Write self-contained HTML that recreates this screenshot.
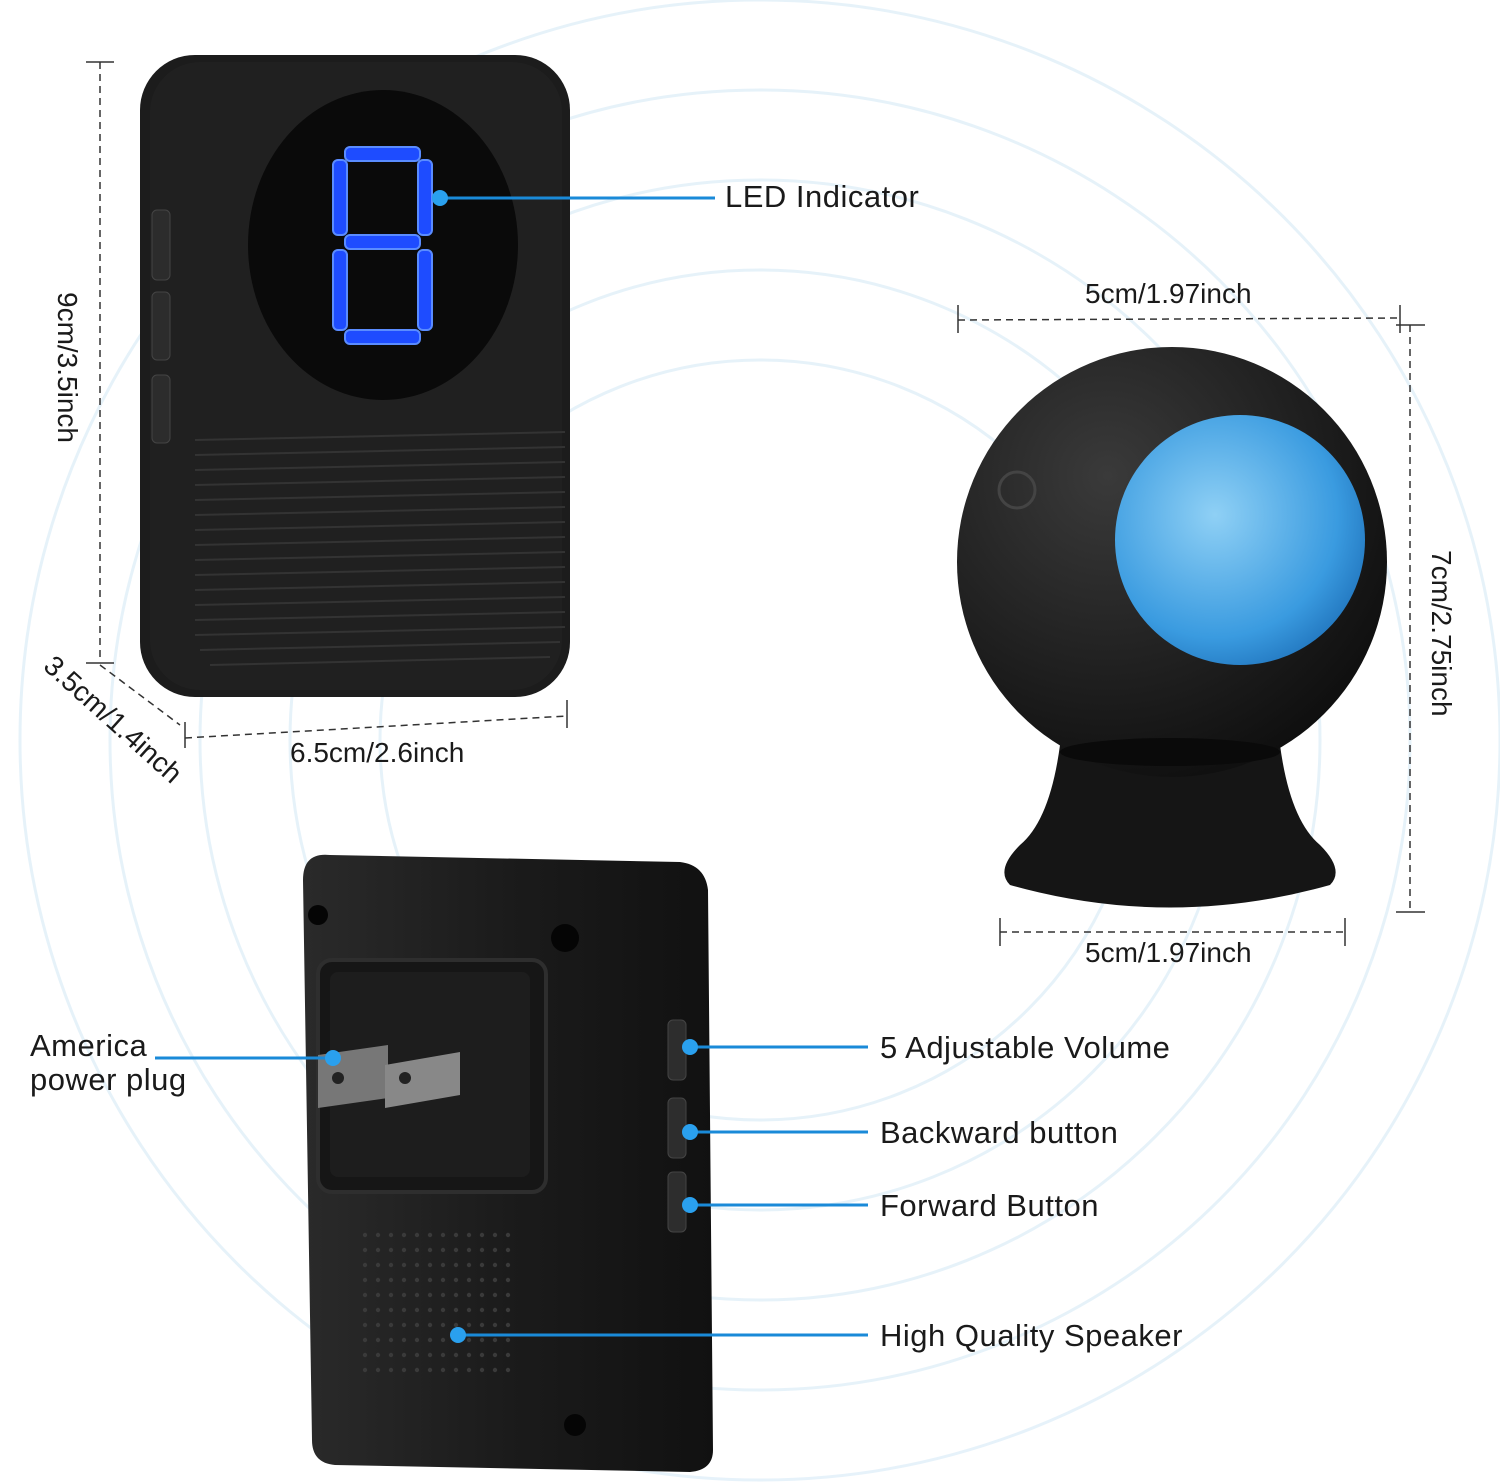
<!DOCTYPE html>
<html><head><meta charset="utf-8"><style>
html,body{margin:0;padding:0;background:#fff;}
svg{display:block;}
text{font-family:"Liberation Sans","DejaVu Sans",sans-serif;fill:#1a1a1a;}
</style></head><body>
<svg width="1500" height="1483" viewBox="0 0 1500 1483" xmlns="http://www.w3.org/2000/svg">
<defs>
<radialGradient id="lens" cx="0.4" cy="0.4" r="0.7"><stop offset="0" stop-color="#8fd0f5"/><stop offset="0.7" stop-color="#3a9be0"/><stop offset="1" stop-color="#1d6fb8"/></radialGradient>
<radialGradient id="ball" cx="0.35" cy="0.3" r="0.8"><stop offset="0" stop-color="#3a3a3a"/><stop offset="1" stop-color="#0c0c0c"/></radialGradient>
<linearGradient id="box" x1="0" x2="1"><stop offset="0" stop-color="#2a2a2a"/><stop offset="0.5" stop-color="#1b1b1b"/><stop offset="1" stop-color="#111"/></linearGradient>
</defs>
<rect width="1500" height="1483" fill="#fff"/>
<g fill="none" stroke="#d6eaf6" stroke-width="3" opacity="0.6">
<circle cx="760" cy="740" r="560"/>
<circle cx="760" cy="740" r="650"/>
<circle cx="760" cy="740" r="740"/>
<circle cx="760" cy="740" r="470"/>
<circle cx="760" cy="740" r="380"/>
</g>
<rect x="140" y="55" width="430" height="642" rx="55" fill="#1c1c1c"/>
<rect x="150" y="62" width="412" height="628" rx="50" fill="#202020"/>
<ellipse cx="383" cy="245" rx="135" ry="155" fill="#0a0a0a"/>
<g fill="#1e4cff" stroke="#5a8cff" stroke-width="2">
<rect x="345" y="147" width="75" height="14" rx="5"/>
<rect x="333" y="160" width="14" height="75" rx="5"/>
<rect x="418" y="160" width="14" height="75" rx="5"/>
<rect x="345" y="235" width="75" height="14" rx="5"/>
<rect x="333" y="250" width="14" height="80" rx="5"/>
<rect x="418" y="250" width="14" height="80" rx="5"/>
<rect x="345" y="330" width="75" height="14" rx="5"/>
</g>
<g stroke="#333" stroke-width="2">
<line x1="195" y1="440" x2="565" y2="432"/><line x1="195" y1="455" x2="565" y2="447"/>
<line x1="195" y1="470" x2="565" y2="462"/><line x1="195" y1="485" x2="565" y2="477"/>
<line x1="195" y1="500" x2="565" y2="492"/><line x1="195" y1="515" x2="565" y2="507"/>
<line x1="195" y1="530" x2="565" y2="522"/><line x1="195" y1="545" x2="565" y2="537"/>
<line x1="195" y1="560" x2="565" y2="552"/><line x1="195" y1="575" x2="565" y2="567"/>
<line x1="195" y1="590" x2="565" y2="582"/><line x1="195" y1="605" x2="565" y2="597"/>
<line x1="195" y1="620" x2="565" y2="612"/><line x1="195" y1="635" x2="565" y2="627"/>
<line x1="200" y1="650" x2="560" y2="642"/><line x1="210" y1="665" x2="550" y2="657"/>
</g>
<g fill="#2c2c2c" stroke="#444"><rect x="152" y="210" width="18" height="70" rx="5"/><rect x="152" y="292" width="18" height="68" rx="5"/><rect x="152" y="375" width="18" height="68" rx="5"/></g>
<g stroke="#333" stroke-width="1.5" stroke-dasharray="7,5" fill="none">
<line x1="100" y1="62" x2="100" y2="662"/>
<line x1="185" y1="738" x2="567" y2="716"/>
<line x1="100" y1="665" x2="180" y2="725"/>
</g>
<g stroke="#333" stroke-width="1.5"><line x1="86" y1="62" x2="114" y2="62"/><line x1="86" y1="663" x2="114" y2="663"/><line x1="567" y1="700" x2="567" y2="728"/><line x1="185" y1="722" x2="185" y2="748"/></g>
<text x="0" y="0" font-size="28" transform="translate(58,292) rotate(90)">9cm/3.5inch</text>
<text x="290" y="762" font-size="28">6.5cm/2.6inch</text>
<text x="0" y="0" font-size="28" transform="translate(42,668) rotate(42)">3.5cm/1.4inch</text>
<line x1="440" y1="198" x2="715" y2="198" stroke="#1a8ad8" stroke-width="3"/>
<circle cx="440" cy="198" r="8" fill="#2aa0ee"/>
<text x="725" y="207" font-size="31" letter-spacing="0.5">LED Indicator</text>
<path d="M1060 745 L1280 745 Q1290 820 1320 845 Q1345 870 1330 885 Q1170 930 1010 885 Q995 870 1020 845 Q1050 820 1060 745Z" fill="#151515"/>
<circle cx="1172" cy="562" r="215" fill="url(#ball)"/>
<ellipse cx="1170" cy="752" rx="110" ry="14" fill="#0a0a0a"/>
<circle cx="1240" cy="540" r="125" fill="url(#lens)"/>
<circle cx="1017" cy="490" r="18" fill="none" stroke="#444" stroke-width="3"/>
<g stroke="#333" stroke-width="1.5" stroke-dasharray="7,5" fill="none">
<line x1="958" y1="320" x2="1400" y2="318"/>
<line x1="1410" y1="325" x2="1410" y2="912"/>
<line x1="1000" y1="932" x2="1345" y2="932"/>
</g>
<g stroke="#333" stroke-width="1.5"><line x1="958" y1="305" x2="958" y2="333"/><line x1="1400" y1="305" x2="1400" y2="333"/><line x1="1396" y1="325" x2="1425" y2="325"/><line x1="1396" y1="912" x2="1425" y2="912"/><line x1="1000" y1="918" x2="1000" y2="946"/><line x1="1345" y1="918" x2="1345" y2="946"/></g>
<text x="1085" y="303" font-size="28">5cm/1.97inch</text>
<text x="1085" y="962" font-size="28">5cm/1.97inch</text>
<text x="0" y="0" font-size="28" transform="translate(1432,550) rotate(90)">7cm/2.75inch</text>
<path d="M330 855 L680 862 Q705 865 708 890 L713 1450 Q713 1470 690 1472 L335 1465 Q312 1463 312 1440 L303 880 Q303 852 330 855Z" fill="url(#box)"/>
<rect x="318" y="960" width="228" height="232" rx="14" fill="#161616" stroke="#2e2e2e" stroke-width="4"/>
<rect x="330" y="972" width="200" height="205" rx="8" fill="#1d1d1d"/>
<circle cx="318" cy="915" r="10" fill="#050505"/><circle cx="565" cy="938" r="14" fill="#050505"/><circle cx="575" cy="1425" r="11" fill="#050505"/>
<path d="M318 1055 L388 1045 L388 1098 L318 1108Z" fill="#777"/>
<path d="M385 1065 L460 1052 L460 1095 L385 1108Z" fill="#888"/>
<circle cx="338" cy="1078" r="6" fill="#222"/><circle cx="405" cy="1078" r="6" fill="#222"/>
<g fill="#2d2d2d" stroke="#444"><rect x="668" y="1020" width="18" height="60" rx="5"/><rect x="668" y="1098" width="18" height="60" rx="5"/><rect x="668" y="1172" width="18" height="60" rx="5"/></g>
<g fill="#3a3a3a" id="dots"></g>
<script>
var g=document.getElementById('dots');
for(var r=0;r<10;r++)for(var c=0;c<12;c++){var cx=365+c*13,cy=1235+r*15;var e=document.createElementNS('http://www.w3.org/2000/svg','circle');e.setAttribute('cx',cx);e.setAttribute('cy',cy);e.setAttribute('r',2.2);g.appendChild(e);}
</script>
<g stroke="#1a8ad8" stroke-width="3">
<line x1="155" y1="1058" x2="333" y2="1058"/>
<line x1="690" y1="1047" x2="868" y2="1047"/>
<line x1="690" y1="1132" x2="868" y2="1132"/>
<line x1="690" y1="1205" x2="868" y2="1205"/>
<line x1="458" y1="1335" x2="868" y2="1335"/>
</g>
<g fill="#2aa0ee"><circle cx="333" cy="1058" r="8"/><circle cx="690" cy="1047" r="8"/><circle cx="690" cy="1132" r="8"/><circle cx="690" cy="1205" r="8"/><circle cx="458" cy="1335" r="8"/></g>
<text x="30" y="1056" font-size="31" letter-spacing="0.5">America</text>
<text x="30" y="1090" font-size="31" letter-spacing="0.5">power plug</text>
<text x="880" y="1058" font-size="31" letter-spacing="0.5">5 Adjustable Volume</text>
<text x="880" y="1143" font-size="31" letter-spacing="0.5">Backward button</text>
<text x="880" y="1216" font-size="31" letter-spacing="0.5">Forward Button</text>
<text x="880" y="1346" font-size="31" letter-spacing="0.5">High Quality Speaker</text>
</svg>
</body></html>
